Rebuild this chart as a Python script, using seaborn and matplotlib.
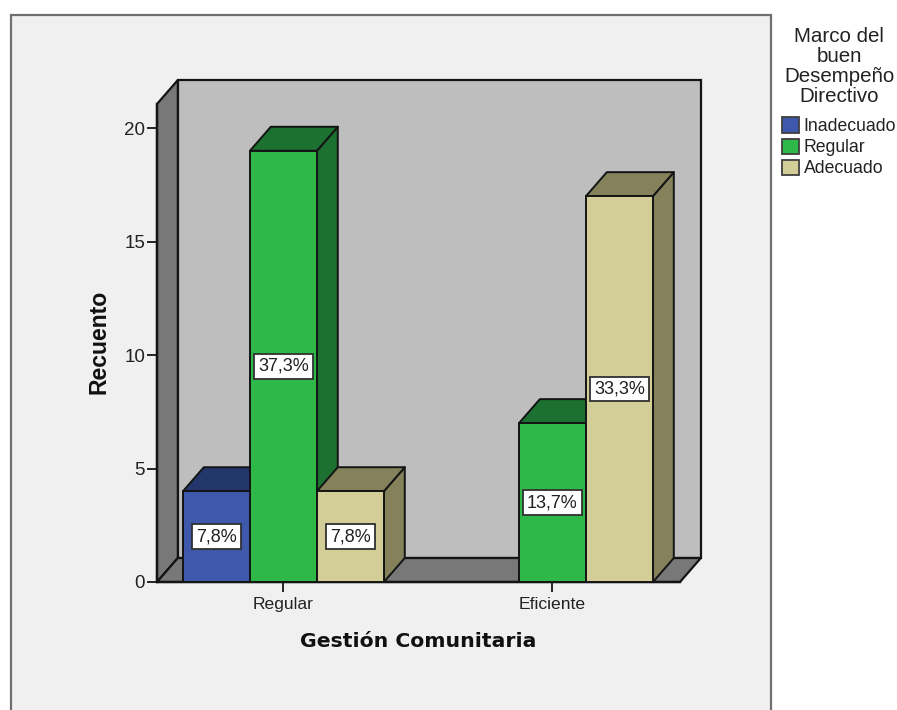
import matplotlib
matplotlib.use("Agg")
import matplotlib.pyplot as plt
from matplotlib.patches import Polygon, Rectangle
import pandas as pd
import seaborn as sns

# Counts per management level and framework rating
groups = ["Regular", "Eficiente"]
ratings = ["Inadecuado", "Regular", "Adecuado"]
inadecuado_counts = [4, 0]
regular_counts = [19, 7]
adecuado_counts = [4, 17]
inadecuado_labels = ["7,8%", ""]
regular_labels = ["37,3%", "13,7%"]
adecuado_labels = ["7,8%", "33,3%"]

front_colors = ["#3E58AC", "#2EB848", "#D3CE97"]
shade_colors = ["#23366B", "#1C7030", "#84815B"]
legend_title = "Marco del\nbuen\nDesempeño\nDirectivo"

W, H = 897, 710
sns.set_theme(style="white")
plt.rcParams["font.family"] = ["Liberation Sans", "DejaVu Sans"]

table = pd.DataFrame({
    "group": groups * 3,
    "rating": [r for r in ratings for _ in groups],
    "count": inadecuado_counts + regular_counts + adecuado_counts,
})

fig = plt.figure(figsize=(W / 100, H / 100), dpi=100, facecolor="white")

# Light panel behind the chart; its lower edge runs off the figure
fig.add_artist(Rectangle((11 / W, -0.02), 760 / W, (710 - 15) / H + 0.02,
                         transform=fig.transFigure, facecolor="#F0F0F0",
                         edgecolor="#707070", linewidth=1.6, zorder=-1))

ax = fig.add_axes([157 / W, (H - 582) / H, 523 / W, 478 / H])
ax.patch.set_alpha(0)

sns.barplot(data=table, x="group", y="count", hue="rating", order=groups,
            hue_order=ratings, palette=front_colors, saturation=1,
            width=0.747, edgecolor="#141414", linewidth=1.4, ax=ax)

ax.set_xlim(-0.470, 1.474)
ax.set_ylim(0, 21.06)
x0, x1 = ax.get_xlim()
y0, y1 = ax.get_ylim()

# Receding depth of the box, in data units
depth_x = 0.0775
depth_y = 1.057
edge = dict(edgecolor="#141414", linewidth=1.6, clip_on=False)

# Back wall, left wall and floor
ax.add_patch(Polygon([(x0 + depth_x, y0 + depth_y), (x1 + depth_x, y0 + depth_y),
                      (x1 + depth_x, y1 + depth_y), (x0 + depth_x, y1 + depth_y)],
                     facecolor="#BEBEBE", zorder=0.5, **edge))
ax.add_patch(Polygon([(x0, y0), (x0 + depth_x, y0 + depth_y),
                      (x0 + depth_x, y1 + depth_y), (x0, y1)],
                     facecolor="#787878", zorder=0.6, **edge))
ax.add_patch(Polygon([(x0, y0), (x1, y0), (x1 + depth_x, y0 + depth_y),
                      (x0 + depth_x, y0 + depth_y)],
                     facecolor="#787878", zorder=0.6, **edge))

# Extrude each bar, painting left to right so nearer faces overlap correctly
bars = []
for container, shade in zip(ax.containers, shade_colors):
    for bar in container:
        bars.append((bar, shade))
bars.sort(key=lambda item: item[0].get_x())

for rank, (bar, shade) in enumerate(bars):
    if bar.get_height() == 0:
        bar.set_visible(False)
        continue
    left, right = bar.get_x(), bar.get_x() + bar.get_width()
    top = bar.get_height()
    z = 2 + rank * 0.1
    ax.add_patch(Polygon([(right, 0), (right + depth_x, depth_y),
                          (right + depth_x, top + depth_y), (right, top)],
                         facecolor=shade, zorder=z, joinstyle="round",
                         edgecolor="#141414", linewidth=1.4, clip_on=False))
    ax.add_patch(Polygon([(left, top), (right, top),
                          (right + depth_x, top + depth_y), (left + depth_x, top + depth_y)],
                         facecolor=shade, zorder=z, joinstyle="round",
                         edgecolor="#141414", linewidth=1.4, clip_on=False))
    bar.set_zorder(z + 0.05)

# Percentage tags centred on the front faces
for container, labels in zip(ax.containers,
                             [inadecuado_labels, regular_labels, adecuado_labels]):
    tags = ax.bar_label(container, labels=labels, label_type="center",
                        fontsize=13, color="#202020", zorder=10,
                        bbox=dict(boxstyle="square,pad=0.21", facecolor="white",
                                  edgecolor="#303030", linewidth=1.3))

# Axes styling
sns.despine(ax=ax)
for side in ("left", "bottom"):
    ax.spines[side].set_color("#141414")
    ax.spines[side].set_linewidth(1.7)
    ax.spines[side].set_zorder(1.5)
ax.set_yticks([0, 5, 10, 15, 20])
ax.tick_params(axis="y", length=7.5, width=1.3, color="#141414", labelsize=13.5,
               labelcolor="#222222", pad=1, left=True)
ax.tick_params(axis="x", length=7.5, width=1.3, color="#141414", labelsize=12.6,
               labelcolor="#222222", pad=3, bottom=True)
ax.set_xlabel("Gestión Comunitaria", fontsize=14.7, fontweight="bold",
              family="DejaVu Sans", color="#111111", labelpad=14.5)
ax.set_ylabel("Recuento", fontsize=16.6, fontweight="bold", color="#111111", labelpad=10)
ax.yaxis.label.set_y(0.503)

# Legend to the right of the panel
sns.move_legend(ax, loc="upper left", bbox_to_anchor=(779 / W, (H - 24) / H),
                bbox_transform=fig.transFigure, title=legend_title, frameon=False,
                fontsize=12.7, title_fontsize=14.8, handlelength=0.98, handleheight=0.95,
                handletextpad=0.28, labelspacing=0.2, borderpad=0.15, borderaxespad=0)
legend = ax.get_legend()
legend.get_title().set_color("#222222")
legend.get_title().set_multialignment("center")
legend.get_title().set_linespacing(1.08)
legend._legend_box.sep = 8
for text in legend.get_texts():
    text.set_color("#222222")
for handle in legend.get_patches():
    handle.set_edgecolor("#404040")
    handle.set_linewidth(1.3)

fig.savefig("out.png", dpi=100)
